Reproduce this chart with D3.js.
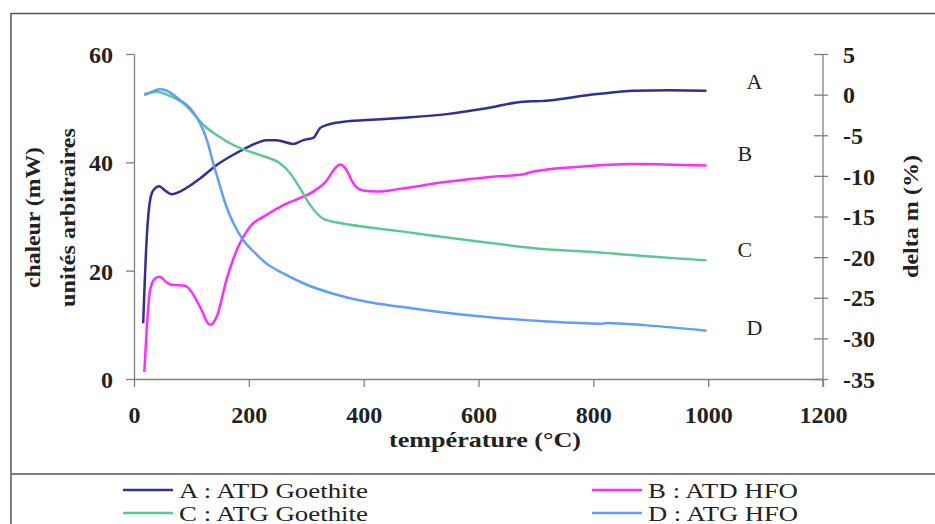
<!DOCTYPE html>
<html>
<head>
<meta charset="utf-8">
<script src="https://cdn.jsdelivr.net/npm/d3@7"></script>
<style>
  body { margin: 0; background: #fff; }
  svg { display: block; }
  text { font-family: "Liberation Serif", "Times New Roman", serif; fill: #222; }
</style>
</head>
<body>
<svg id="chart" width="935" height="524"></svg>
<script>
// temperature (°C) readings for each curve
const tempA = [16, 22, 28, 34, 44, 54, 66, 80, 115, 144, 173, 202, 231, 248, 277, 295, 312, 324, 336, 365, 405, 463, 545, 614, 678, 707, 806, 870, 933, 997];
const heatA = [10.3, 25.7, 33, 34.9, 35.6, 34.8, 34.1, 34.6, 37, 39.5, 41.4, 43, 44.1, 44.1, 43.4, 44.1, 44.5, 46.3, 46.9, 47.5, 47.8, 48.2, 48.9, 50, 51.2, 51.3, 52.6, 53.2, 53.3, 53.2];

const tempB = [18, 22, 28, 37, 45, 57, 66, 89, 100, 115, 132, 144, 161, 179, 202, 231, 260, 289, 312, 336, 350, 359, 370, 382, 399, 423, 463, 545, 620, 678, 696, 777, 870, 997];
const heatB = [1.3, 9, 16.4, 18.6, 18.9, 17.8, 17.4, 17.2, 16.1, 13.3, 10, 11.5, 18.3, 23.8, 28.1, 30.3, 32.1, 33.4, 34.6, 36.7, 38.9, 39.6, 38.6, 36.1, 34.8, 34.6, 35.1, 36.4, 37.3, 37.8, 38.3, 39.2, 39.7, 39.4];

const tempC = [18, 39, 63, 86, 103, 121, 144, 173, 202, 231, 254, 272, 289, 307, 330, 359, 405, 463, 515, 603, 719, 806, 893, 997];
const massC = [0.04, 0.36, -0.17, -1.07, -2.3, -3.74, -4.97, -6.2, -7.02, -7.71, -8.45, -9.68, -11.5, -13.6, -15.3, -15.8, -16.3, -16.8, -17.3, -18.1, -19.04, -19.4, -19.9, -20.4];

const tempD = [18, 28, 45, 57, 80, 98, 115, 127, 138, 150, 161, 173, 190, 208, 231, 260, 301, 347, 405, 463, 515, 620, 713, 815, 823, 893, 997];
const massD = [-0.05, 0.24, 0.65, 0.48, -0.66, -1.68, -3.53, -5.6, -8.45, -11.3, -13.8, -15.8, -17.9, -19.3, -20.8, -22.0, -23.4, -24.5, -25.5, -26.1, -26.6, -27.4, -27.9, -28.2, -28.1, -28.4, -29.05];

const seriesKeys = ["A", "B", "C", "D"];
const seriesNames = ["A : ATD Goethite", "B : ATD HFO", "C : ATG Goethite", "D : ATG HFO"];
const seriesColors = ["#2d3196", "#ff2cff", "#5ec892", "#5f9dff"];

const xTicks = [0, 200, 400, 600, 800, 1000, 1200];
const leftTicks = [0, 20, 40, 60];
const rightTicks = [5, 0, -5, -10, -15, -20, -25, -30, -35];

const svg = d3.select("#chart");

// plot area
const x = d3.scaleLinear().domain([0, 1200]).range([134, 823]);
const yLeft = d3.scaleLinear().domain([0, 60]).range([379, 54]);
const yRight = d3.scaleLinear().domain([-35, 5]).range([379, 54]);

// frame around the figure
const frame = svg.append("g").attr("stroke", "#555").attr("stroke-width", 1.5);
frame.append("line").attr("x1", 11).attr("x2", 935).attr("y1", 13.5).attr("y2", 13.5);
frame.append("line").attr("x1", 11).attr("x2", 11).attr("y1", 13).attr("y2", 524);
frame.append("line").attr("x1", 11).attr("x2", 935).attr("y1", 474).attr("y2", 474);

const axisColor = "#808080";
const styleAxis = g => {
    g.selectAll("path.domain").attr("stroke", axisColor).attr("stroke-width", 1.3);
    g.selectAll(".tick line").attr("stroke", axisColor).attr("stroke-width", 1.3);
    g.selectAll("text")
        .attr("font-family", "Liberation Serif, serif")
        .attr("font-size", 24)
        .attr("font-weight", "bold")
        .attr("fill", "#222");
};

// bottom axis
const gx = svg.append("g")
    .attr("transform", "translate(0,379)")
    .call(d3.axisBottom(x).tickValues(xTicks).tickFormat(d3.format("d"))
        .tickSizeInner(8).tickSizeOuter(0).tickPadding(20));
styleAxis(gx);
gx.selectAll("text").attr("dy", null).attr("y", 44);

// left axis
const gyl = svg.append("g")
    .attr("transform", "translate(134,0)")
    .call(d3.axisLeft(yLeft).tickValues(leftTicks).tickSizeInner(8).tickSizeOuter(0).tickPadding(13));
styleAxis(gyl);
gyl.selectAll("text").attr("dy", "0.36em");

// right axis, ticks crossing the line
const gyr = svg.append("g")
    .attr("transform", "translate(823,0)")
    .call(d3.axisRight(yRight).tickValues(rightTicks).tickSizeInner(5).tickSizeOuter(0).tickPadding(15)
        .tickFormat(d => d < 0 ? "-" + Math.abs(d) : d));
styleAxis(gyr);
gyr.selectAll(".tick line").attr("x1", -9);
gyr.selectAll("text").attr("dy", "0.34em");
gyr.select("path.domain").attr("d", "M0,54V387");

// axis titles
svg.append("text")
    .attr("x", 485).attr("y", 447)
    .attr("text-anchor", "middle")
    .attr("font-size", 21).attr("font-weight", "bold")
    .attr("textLength", 192).attr("lengthAdjust", "spacingAndGlyphs")
    .text("température (°C)");

svg.append("text")
    .attr("transform", "translate(40,217.5) rotate(-90)")
    .attr("text-anchor", "middle")
    .attr("font-size", 21).attr("font-weight", "bold")
    .attr("textLength", 141).attr("lengthAdjust", "spacingAndGlyphs")
    .text("chaleur (mW)");

svg.append("text")
    .attr("transform", "translate(75,217.5) rotate(-90)")
    .attr("text-anchor", "middle")
    .attr("font-size", 21).attr("font-weight", "bold")
    .attr("textLength", 179).attr("lengthAdjust", "spacingAndGlyphs")
    .text("unités arbitraires");

svg.append("text")
    .attr("transform", "translate(918,216.5) rotate(-90)")
    .attr("text-anchor", "middle")
    .attr("font-size", 21).attr("font-weight", "bold")
    .attr("textLength", 123).attr("lengthAdjust", "spacingAndGlyphs")
    .text("delta m (%)");

// curves
const series = [
    { key: "A", temps: tempA, values: heatA, y: yLeft },
    { key: "B", temps: tempB, values: heatB, y: yLeft },
    { key: "C", temps: tempC, values: massC, y: yRight },
    { key: "D", temps: tempD, values: massD, y: yRight }
];

series.forEach((s, i) => {
    const pts = s.temps.map((t, j) => [t, s.values[j]]);
    const line = d3.line()
        .x(d => x(d[0]))
        .y(d => s.y(d[1]))
        .curve(d3.curveMonotoneX);
    svg.append("path")
        .datum(pts)
        .attr("fill", "none")
        .attr("stroke", seriesColors[i])
        .attr("stroke-width", 2.5)
        .attr("stroke-linejoin", "round")
        .attr("d", line);
});

// letters next to the curve ends
const labelOffset = { A: [40, -2], B: [31, -5], C: [31, -3], D: [40, 4] };
series.forEach(s => {
    const last = s.temps.length - 1;
    const [dx, dy] = labelOffset[s.key];
    svg.append("text")
        .attr("x", x(s.temps[last]) + dx)
        .attr("y", s.y(s.values[last]) + dy)
        .attr("font-size", 22)
        .text(s.key);
});

// legend
const legendPos = [[123, 490], [592, 490], [123, 513], [592, 513]];
const legendWidths = [189, 150, 189, 150];
seriesKeys.forEach((k, i) => {
    const [lx, ly] = legendPos[i];
    const g = svg.append("g").attr("transform", `translate(${lx},${ly})`);
    g.append("line")
        .attr("x1", 0).attr("x2", 50)
        .attr("stroke", seriesColors[i]).attr("stroke-width", 2.5);
    g.append("text")
        .attr("x", 56).attr("y", 8)
        .attr("font-size", 20)
        .attr("fill", "#333")
        .attr("textLength", legendWidths[i]).attr("lengthAdjust", "spacingAndGlyphs")
        .text(seriesNames[i]);
});
</script>
</body>
</html>
